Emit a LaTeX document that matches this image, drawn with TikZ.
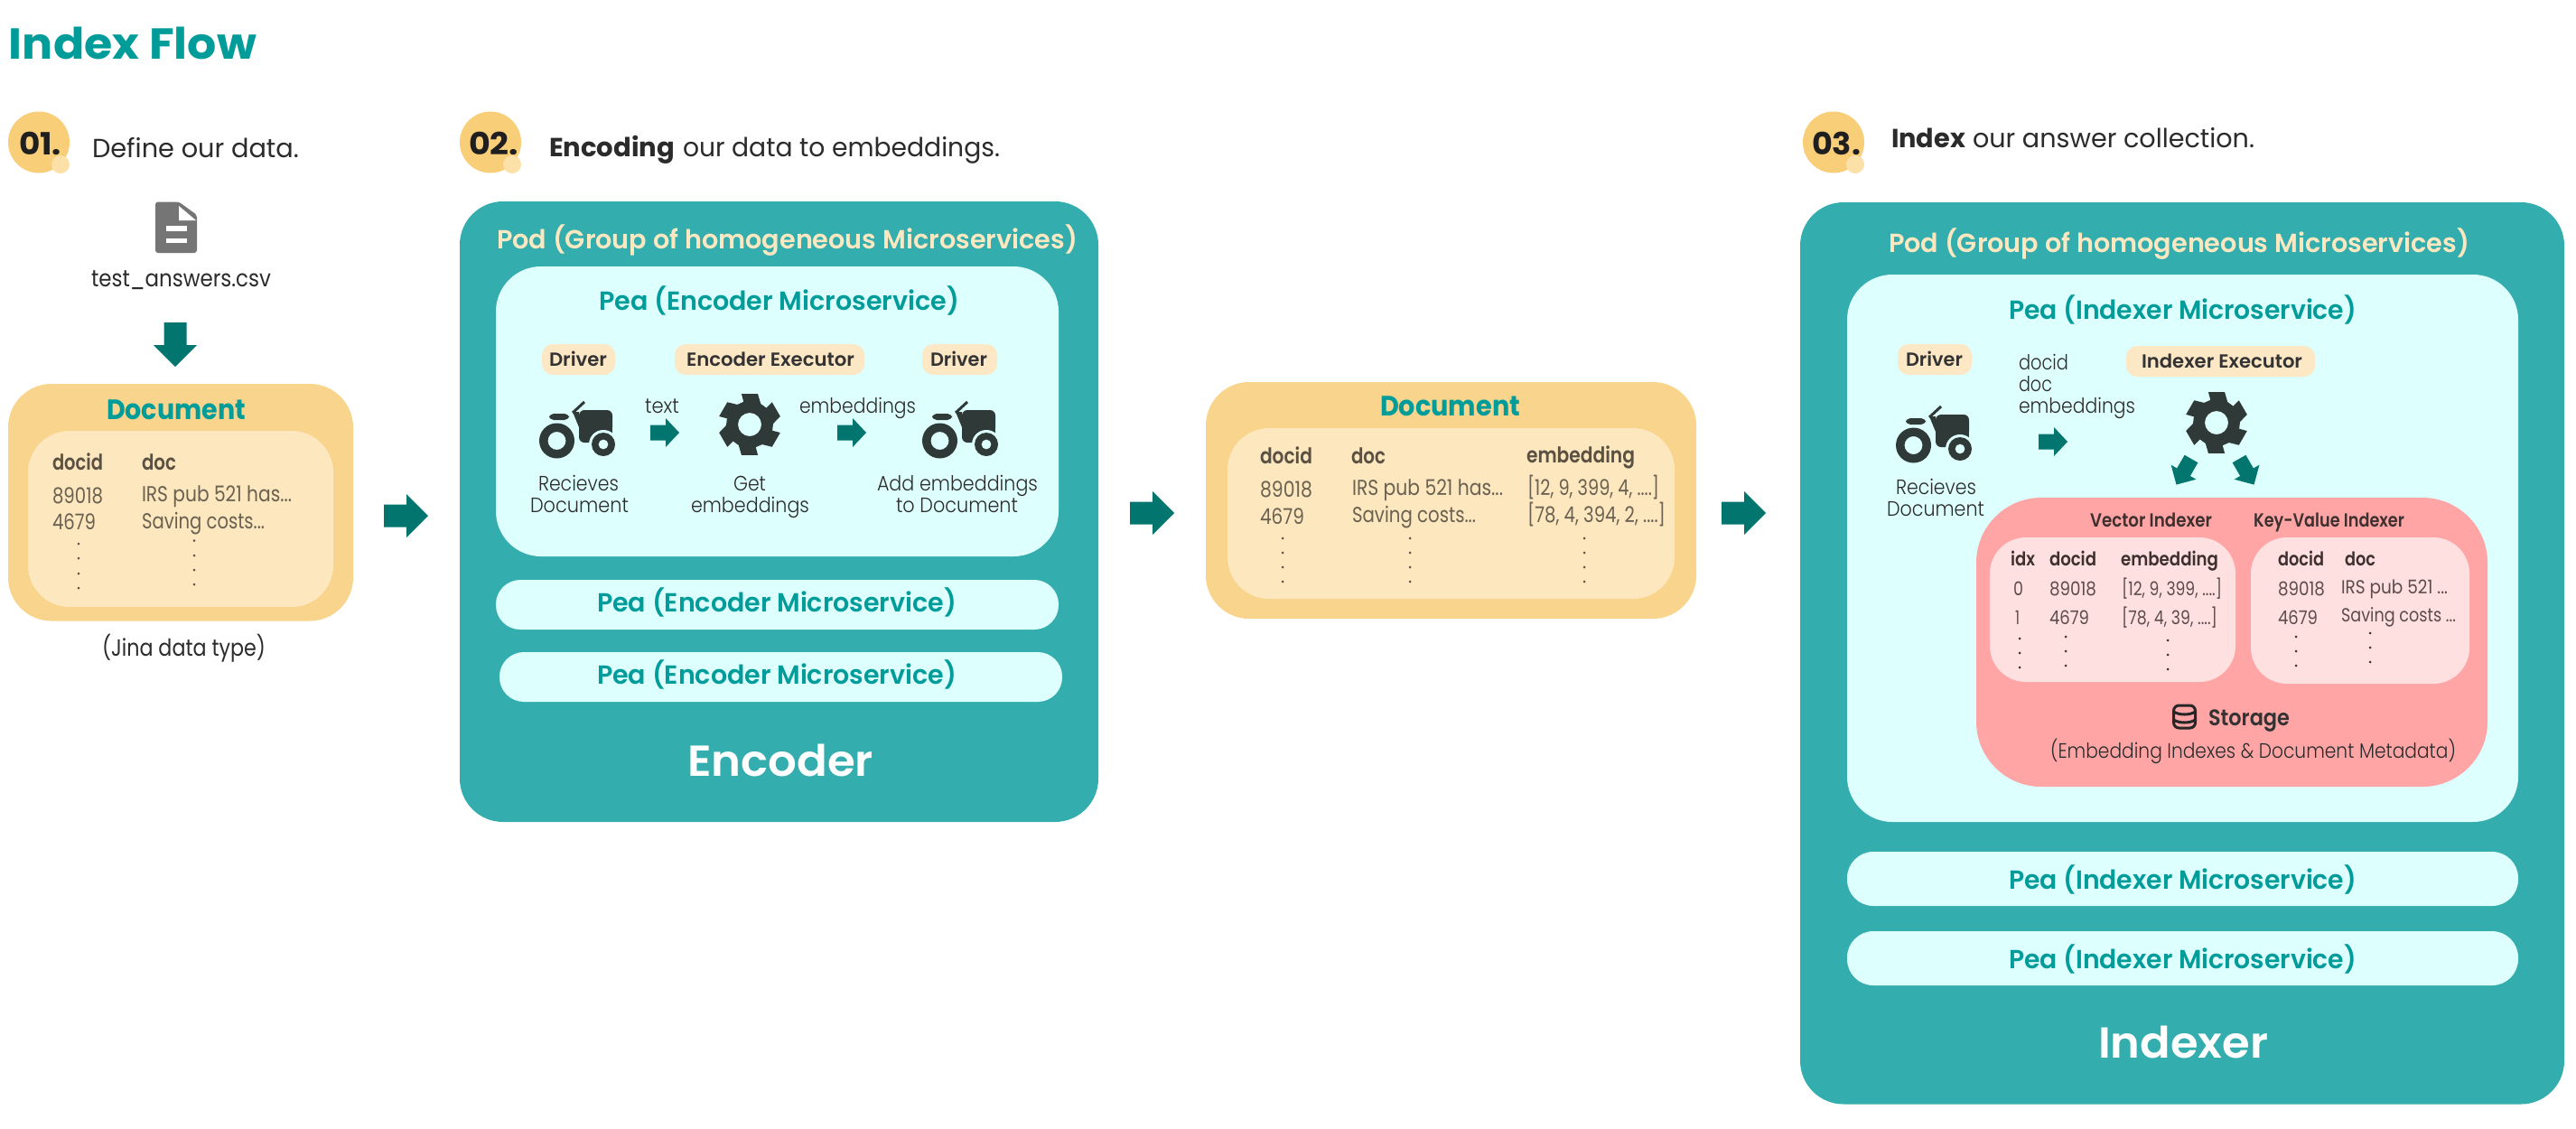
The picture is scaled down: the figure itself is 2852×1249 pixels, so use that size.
\documentclass[tikz,border=0pt]{standalone}
\usepackage{fontspec}
\usepackage{graphicx}
\newfontfamily\fL{Poppins Light}
\newfontfamily\fR{Poppins}
\newfontfamily\fM{Poppins Medium}
\newfontfamily\fS{Poppins SemiBold}
\newfontfamily\fB{Poppins Bold}
\newcommand\fsz[1]{\fontsize{\dimexpr #1pt/2\relax}{\dimexpr #1pt/2\relax}\selectfont}
\definecolor{tealT}{HTML}{009C9A}
\definecolor{podC}{HTML}{33ADAD}
\definecolor{peaC}{HTML}{DDFFFE}
\definecolor{arrowC}{HTML}{02756F}
\definecolor{docC}{HTML}{F8D48C}
\definecolor{docI}{HTML}{FCE7BF}
\definecolor{badgeC}{HTML}{F8CE78}
\definecolor{badgeS}{HTML}{FBE0A8}
\definecolor{chipC}{HTML}{FDE8C6}
\definecolor{iconC}{HTML}{2F3A38}
\definecolor{redC}{HTML}{FFA5A5}
\definecolor{redI}{HTML}{FFE0E0}
\definecolor{inkC}{HTML}{2B2B2B}
\definecolor{tblH}{HTML}{5A5142}
\definecolor{tblT}{HTML}{6A6150}
\definecolor{redH}{HTML}{3F3030}
\definecolor{redT}{HTML}{5E4C4C}
\definecolor{podTxt}{HTML}{FBE7C0}
\definecolor{fileC}{HTML}{757575}
\newcommand\T[6]{\node[txt,#5] (#1) at (#2,#3) {\resizebox{\dimexpr #4pt/2\relax}{\height}{\strut\kern0pt #6}};}
% filled rounded box: x1 y1 x2 y2 radius colour
\newcommand\Bx[6]{\fill[#6,rounded corners=\dimexpr #5pt/2\relax] (#1,#2) rectangle (#3,#4);}
% block arrow: x y(tail centre) angle len stemlen stemhalf headhalf
\newcommand\Ar[7]{\begin{scope}[shift={(#1,#2)},rotate=#3]\fill[arrowC] (0,-#6) -- (#5,-#6) -- (#5,-#7) -- (#4,0) -- (#5,#7) -- (#5,#6) -- (0,#6) -- cycle;\end{scope}}
\newcommand\Dots[5]{\foreach \yy in {#2,#3,#4,#5}{\fill[#1] (\xx,\yy) circle[radius=1.5];}}
\tikzset{
  x=0.5pt,y=-0.5pt,
  txt/.style={inner sep=0pt,outer sep=0pt,anchor=base west},
  title/.style={font=\fB\fsz{48},text=tealT},
  badgeT/.style={font=\fB\fsz{34},text=black!88},
  leadR/.style={font=\fR\fsz{29},text=inkC},
  leadB/.style={font=\fB\fsz{29},text=inkC},
  plainT/.style={font=\fR\fsz{26},text=inkC},
  docT/.style={font=\fB\fsz{31},text=tealT},
  tH/.style={font=\fS\fsz{24},text=tblH},
  tT/.style={font=\fR\fsz{24},text=tblT},
  podT/.style={font=\fS\fsz{29},text=podTxt},
  peaT/.style={font=\fS\fsz{29},text=tealT},
  chipT/.style={font=\fS\fsz{21},text=black!80},
  smallT/.style={font=\fL\fsz{23},text=inkC},
  bigT/.style={font=\fS\fsz{48},text=white},
  rH/.style={font=\fS\fsz{21},text=redH},
  rT/.style={font=\fR\fsz{21},text=redT},
  stT/.style={font=\fS\fsz{25},text=black!80},
  tractor/.pic={
    \fill[iconC,even odd rule] (19.5,45) circle[radius=19.5] (19.5,45) circle[radius=10];
    \fill[iconC,rounded corners=2.5pt] (11,15) rectangle (33,22);
    \draw[iconC,line width=1.5pt] (37,14) -- (50,2);
    \fill[iconC] (37,13) -- (44,13) -- (44,30) -- cycle;
    \fill[iconC,rounded corners=3pt] (44,47) -- (44,11) -- (81,11) -- (81,47) -- cycle;
    \fill[peaC] (71,49) circle[radius=16] ;
    \fill[peaC] (55,47.5) rectangle (90,70);
    \fill[peaC] (81,30) rectangle (90,47.5);
    \fill[iconC,even odd rule] (71,49) circle[radius=13] (71,49) circle[radius=5.5];
  },
  gear/.pic={
    \fill[iconC,even odd rule] (75:35) -- (105:35) -- (118:26) -- (135:26) -- (135:35) -- (165:35) -- (178:26) -- (195:26) -- (195:35) -- (225:35) -- (238:26) -- (255:26) -- (255:35) -- (285:35) -- (298:26) -- (315:26) -- (315:35) -- (345:35) -- (358:26) -- (15:26) -- (15:35) -- (45:35) -- (58:26) -- (75:26) -- cycle
      (0,0) circle[radius=13];
  },
}
\begin{document}
\begin{tikzpicture}
\useasboundingbox (0,0) rectangle (2852,1249);
\fill[white] (0,0) rectangle (2852,1249);
\T{ttl}{10}{65}{274}{title}{Index Flow}
% --- badges
\foreach \cx in {43,543,2030}{
  \fill[badgeC] (\cx,157.5) circle[radius=34];
  \fill[badgeS] (\cx+24,182) circle[radius=10];
}
\T{b1}{21}{171}{47}{badgeT}{01.}
\T{b2}{519}{171}{55}{badgeT}{02.}
\T{b3}{2006}{171}{54}{badgeT}{03.}
\T{lead1}{102}{174}{229}{leadR}{Define our data.}
\T{lead2b}{608}{173}{139}{leadB}{Encoding}
\T{lead2}{756}{173}{351}{leadR}{our data to embeddings.}
\T{lead3b}{2094}{163}{82}{leadB}{Index}
\T{lead3}{2184}{163}{312}{leadR}{our answer collection.}
% --- file icon
\fill[fileC,rounded corners=1.5pt] (172,223.5) -- (198,223.5) -- (218,238) -- (218,280) -- (172,280) -- cycle;
\fill[white] (198,228) -- (217,244) -- (198,244) -- cycle;
\fill[white] (184,250) rectangle (207,256);
\fill[white] (184,263.5) rectangle (207,269);
\T{file}{101}{317}{199}{plainT}{test\_answers.csv}
\Ar{194}{357}{-90}{49}{25}{12.5}{24}
% --- document 1
\Bx{9}{425}{391}{687.5}{48}{docC}
\Bx{31}{477}{369}{672}{46}{docI}
\T{d1}{118}{464}{154}{docT}{Document}
\T{d1a}{58}{520}{56}{tH}{docid}
\T{d1b}{157}{520}{38}{tH}{doc}
\T{d1c}{58}{557}{56}{tT}{89018}
\T{d1d}{157}{555}{166}{tT}{IRS pub 521 has...}
\T{d1e}{58}{586}{48}{tT}{4679}
\T{d1f}{157}{585}{136}{tT}{Saving costs...}
\def\xx{87}\Dots{tblH}{602}{618}{635}{651}
\def\xx{215}\Dots{tblH}{598.5}{615}{631}{647}
\T{jina}{113}{726}{181}{plainT}{(Jina data type)}
\Ar{425}{571}{0}{49}{25}{12.5}{24}
% --- encoder pod
\Bx{509}{223}{1216}{910}{48}{podC}
\T{pod1}{550}{275}{643}{podT}{Pod (Group of homogeneous Microservices)}
\Bx{549}{295}{1172}{616}{50}{peaC}
\T{pea1}{663}{343}{399}{peaT}{Pea (Encoder Microservice)}
\Bx{600}{381}{681}{415}{12}{chipC}
\T{c1}{608}{405}{64}{chipT}{Driver}
\Bx{747}{381}{957}{415}{12}{chipC}
\T{c2}{760}{405}{186}{chipT}{Encoder Executor}
\Bx{1021}{381}{1104}{415}{12}{chipC}
\T{c3}{1030}{405}{63}{chipT}{Driver}
\pic at (597,443) {tractor};
\pic at (830,470) {gear};
\pic at (1021,443) {tractor};
\T{t1}{714}{457}{38}{smallT}{text}
\T{t2}{885}{457}{129}{smallT}{embeddings}
\Ar{720}{479}{0}{32}{17}{8.5}{16}
\Ar{927}{479}{0}{32}{17}{8.5}{16}
\T{r1}{596}{543}{89}{smallT}{Recieves}
\T{r2}{587}{567}{109}{smallT}{Document}
\T{g1}{812}{543}{36}{smallT}{Get}
\T{g2}{765}{567}{131}{smallT}{embeddings}
\T{a1}{971}{543}{178}{smallT}{Add embeddings}
\T{a2}{992}{567}{135}{smallT}{to Document}
\Bx{549}{642}{1172}{697}{27}{peaC}
\T{pea2}{661}{677}{398}{peaT}{Pea (Encoder Microservice)}
\Bx{553}{722}{1176}{777}{27}{peaC}
\T{pea3}{661}{757}{398}{peaT}{Pea (Encoder Microservice)}
\T{enc}{761}{859}{206}{bigT}{Encoder}
\Ar{1251}{568}{0}{49}{25}{12.5}{24}
% --- document 2
\Bx{1335}{423}{1878}{685}{48}{docC}
\Bx{1359}{474}{1854}{663}{46}{docI}
\T{d2}{1528}{460}{155}{docT}{Document}
\T{d2a}{1395}{513}{58}{tH}{docid}
\T{d2b}{1496}{513}{38}{tH}{doc}
\T{d2c}{1690}{512}{120}{tH}{embedding}
\T{d2d}{1395}{550}{58}{tT}{89018}
\T{d2e}{1497}{548}{167}{tT}{IRS pub 521 has...}
\T{d2f}{1691}{548}{146}{tT}{[12, 9, 399, 4, ....]}
\T{d2g}{1395}{580}{49}{tT}{4679}
\T{d2h}{1497}{578}{137}{tT}{Saving costs...}
\T{d2i}{1691}{578}{153}{tT}{[78, 4, 394, 2, ....]}
\def\xx{1420}\Dots{tblH}{596}{612}{628}{644}
\def\xx{1561}\Dots{tblH}{596}{612}{628}{644}
\def\xx{1754}\Dots{tblH}{596}{612}{628}{644}
\Ar{1906}{568}{0}{49}{25}{12.5}{24}
% --- indexer pod
\Bx{1993}{224}{2839}{1222.5}{48}{podC}
\T{pod2}{2091}{279}{643}{podT}{Pod (Group of homogeneous Microservices)}
\Bx{2045}{304}{2788}{910}{50}{peaC}
\T{pea4}{2224}{353}{385}{peaT}{Pea (Indexer Microservice)}
\Bx{2101}{381}{2183}{415}{12}{chipC}
\T{c4}{2110}{405}{63}{chipT}{Driver}
\Bx{2354}{383}{2563}{417}{12}{chipC}
\T{c5}{2371}{407}{178}{chipT}{Indexer Executor}
\T{x1}{2235}{409}{55}{smallT}{docid}
\T{x2}{2235}{433}{37}{smallT}{doc}
\T{x3}{2235}{457}{129}{smallT}{embeddings}
\Ar{2257}{489}{0}{32}{17}{8.5}{16}
\pic at (2099,448) {tractor};
\pic at (2454,468) {gear};
\T{r3}{2099}{547}{89}{smallT}{Recieves}
\T{r4}{2089}{571}{108}{smallT}{Document}
\Ar{2426}{508}{-120}{33}{17}{8.5}{16}
\Ar{2479}{508}{-60}{33}{17}{8.5}{16}
% --- storage
\Bx{2188}{551}{2754}{871}{72}{redC}
\T{v1}{2314}{583}{135}{rH}{Vector Indexer}
\T{v2}{2495}{583}{167}{rH}{Key-Value Indexer}
\Bx{2203}{595}{2475}{755}{40}{redI}
\Bx{2492}{595}{2734}{757}{40}{redI}
\T{h1}{2226}{626}{27}{rH}{idx}
\T{h2}{2269}{626}{52}{rH}{docid}
\T{h3}{2348}{626}{108}{rH}{embedding}
\T{h4}{2522}{626}{51}{rH}{docid}
\T{h5}{2596}{626}{34}{rH}{doc}
\T{k1}{2229}{659}{11}{rT}{0}
\T{k2}{2269}{659}{52}{rT}{89018}
\T{k3}{2349}{659}{111}{rT}{[12, 9, 399, ....]}
\T{k4}{2522}{659}{52}{rT}{89018}
\T{k5}{2592}{657}{118}{rT}{IRS pub 521 ...}
\T{k6}{2231}{691}{5}{rT}{1}
\T{k7}{2269}{691}{44}{rT}{4679}
\T{k8}{2349}{691}{106}{rT}{[78, 4, 39, ....]}
\T{k9}{2522}{691}{44}{rT}{4679}
\T{k10}{2592}{688}{127}{rT}{Saving costs ...}
\foreach \px/\py in {2236/707,2236/723,2236/739,2287/705,2287/721,2287/737,2400/709,2400/725,2400/741,2542/705,2542/721,2542/737,2624/701,2624/717,2624/733}{\fill[redH] (\px,\py) circle[radius=1.5];}
% storage icon
\begin{scope}[shift={(2405,778)}]
\draw[black!85,line width=1.5pt,rounded corners=3pt] (1.5,3) rectangle (25.5,28);
\draw[black!85,line width=1.5pt] (1.5,10) .. controls (8,14) and (19,14) .. (25.5,10);
\draw[black!85,line width=1.5pt] (1.5,19) .. controls (8,23) and (19,23) .. (25.5,19);
\end{scope}
\T{st}{2445}{803}{90}{stT}{Storage}
\T{st2}{2270}{839}{449}{smallT}{(Embedding Indexes \& Document Metadata)}
% --- lower peas
\Bx{2045}{943}{2788}{1003}{29}{peaC}
\T{pea5}{2224}{984}{385}{peaT}{Pea (Indexer Microservice)}
\Bx{2045}{1031}{2788}{1091}{29}{peaC}
\T{pea6}{2224}{1072.5}{385}{peaT}{Pea (Indexer Microservice)}
\T{idx}{2323}{1171}{188}{bigT}{Indexer}
\end{tikzpicture}
\end{document}
